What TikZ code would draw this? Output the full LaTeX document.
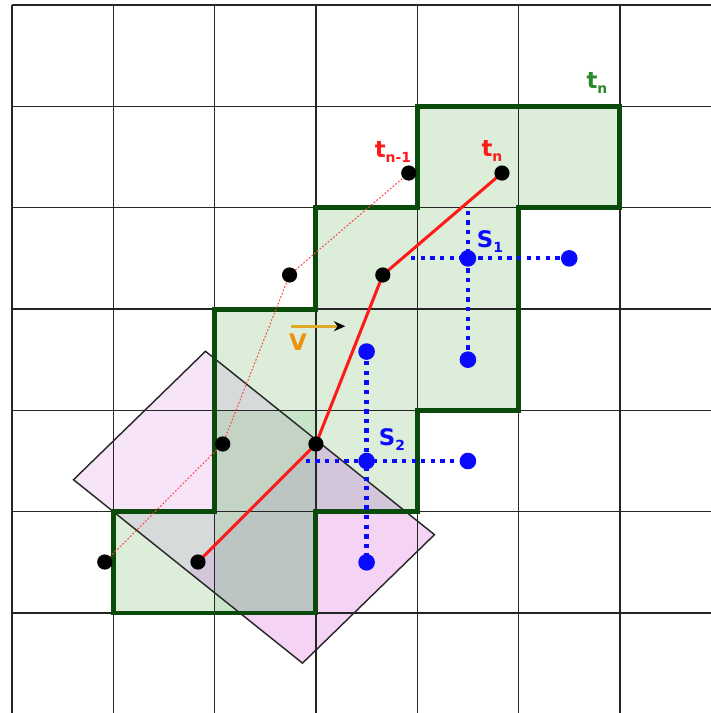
\documentclass[tikz,border=0pt]{standalone}
\usepackage{fontspec}
\setmainfont{DejaVu Sans}
\usetikzlibrary{arrows.meta}
\definecolor{gfill}{HTML}{DCEDD9}
\definecolor{gdouble}{HTML}{C8E4C8}
\definecolor{gline}{HTML}{0A4A0A}
\definecolor{glabel}{HTML}{2A8A2A}
\definecolor{pinkA}{HTML}{F8E4F8}
\definecolor{pinkB}{HTML}{F5D3F5}
\definecolor{greyA}{HTML}{D6DADA}
\definecolor{purpB}{HTML}{D4C6DA}
\definecolor{greyAA}{HTML}{C4D4C4}
\definecolor{greyBB}{HTML}{BCC4C4}
\definecolor{myred}{HTML}{FF1A1A}
\definecolor{myblue}{HTML}{0A0AFF}
\definecolor{myorange}{HTML}{F0900A}
\definecolor{arrowgold}{HTML}{E0A828}
\newcommand{\lblsub}[2]{#1\raisebox{-1.4pt}{\fontsize{3.9}{4}\selectfont #2}}
\tikzset{
  gridline/.style={line width=0.42pt, black!85},
  greenpoly/.style={line width=1.4pt, draw=gline, line join=miter},
  rectedge/.style={line width=0.4pt, draw=black!85},
  bluedots/.style={myblue, line width=1.2pt, dash pattern=on 1.2pt off 1.5pt},
  reddots/.style={myred!80, line width=0.3pt, dash pattern=on 0.5pt off 0.5pt},
  redpath/.style={myred, line width=0.85pt},
  blkdot/.style={fill=black},
  bludot/.style={fill=myblue},
  lbl/.style={font=\fontsize{6.4}{7}\selectfont\bfseries, inner sep=0pt}
}
\begin{document}
\begin{tikzpicture}
\useasboundingbox (-0.118,-0.987) rectangle (6.898,6.05);
\fill[white] (-0.118,-0.987) rectangle (6.898,6.05);
\def\greenpath{(4,5) -- (6,5) -- (6,4) -- (5,4) -- (5,2) -- (4,2) -- (4,1) -- (3,1) -- (3,0) -- (1,0) -- (1,1) -- (2,1) -- (2,3) -- (3,3) -- (3,4) -- (4,4) -- cycle}
\def\rectpath{(0.6075,1.315) -- (1.91,2.583) -- (4.17,0.773) -- (2.8675,-0.495) -- cycle}
\def\bhalf{(-0.1185,-1.399) -- (3.7905,2.405) -- (7.18,-0.31) -- (3.27,-4.114) -- cycle}
% fills
\fill[gfill] \greenpath;
\fill[gdouble] (2,0) rectangle (3,2);
\begin{scope}
  \clip \rectpath;
  \fill[pinkA] \rectpath;
  \fill[pinkB] \bhalf;
  \begin{scope}
    \clip \greenpath;
    \fill[greyA] \rectpath;
    \fill[purpB] \bhalf;
  \end{scope}
  \begin{scope}
    \clip (2,0) rectangle (3,2);
    \fill[greyAA] \rectpath;
    \fill[greyBB] \bhalf;
  \end{scope}
\end{scope}
% grid
\foreach \x in {0,...,6} \draw[gridline] (\x,-1.0) -- (\x,6);
\foreach \y in {0,...,6} \draw[gridline] (0,\y) -- (6.95,\y);
% rectangle outline
\draw[rectedge] \rectpath;
% green outline
\draw[greenpoly] \greenpath;
% sensor crosses
\coordinate (s1c) at (4.5,3.5);
\coordinate (s1r) at (5.5,3.5);
\coordinate (s1b) at (4.5,2.5);
\coordinate (s1l) at (3.94,3.5);
\coordinate (s1t) at (4.5,3.97);
\coordinate (s2c) at (3.5,1.5);
\coordinate (s2r) at (4.5,1.5);
\coordinate (s2b) at (3.5,0.5);
\coordinate (s2t) at (3.5,2.58);
\coordinate (s2l) at (2.9,1.5);
\draw[bluedots] (s1l) -- (s1r);
\draw[bluedots] (s1t) -- (s1b);
\draw[bluedots] (s2l) -- (s2r);
\draw[bluedots] (s2t) -- (s2b);
\foreach \p in {s1c,s1r,s1b,s2c,s2r,s2b,s2t} \fill[bludot] (\p) circle (0.082);
% trajectories
\coordinate (q1) at (0.916,0.503);
\coordinate (q2) at (2.08,1.668);
\coordinate (q3) at (2.74,3.336);
\coordinate (q4) at (3.916,4.342);
\coordinate (p1) at (1.836,0.503);
\coordinate (p2) at (3.0,1.668);
\coordinate (p3) at (3.66,3.336);
\coordinate (p4) at (4.836,4.342);
\draw[reddots] (q1) -- (q2) -- (q3) -- (q4);
\draw[redpath] (p1) -- (p2) -- (p3) -- (p4);
\foreach \p in {q1,q2,q3,q4,p1,p2,p3,p4} \fill[blkdot] (\p) circle (0.075);
% velocity arrow
\coordinate (va) at (2.75,2.83);
\coordinate (vb) at (3.29,2.83);
\draw[arrowgold, line width=0.75pt, -{Stealth[color=black,length=3.2pt,width=2.8pt]}] (va) -- (vb);
% labels
\node[lbl, text=glabel] (ltop) at (5.773,5.23) {\lblsub{t}{n}};
\node[lbl, text=myred] (lprev) at (3.76,4.55) {\lblsub{t}{n-1}};
\node[lbl, text=myred] (lcur) at (4.737,4.56) {\lblsub{t}{n}};
\node[lbl, text=myblue] (ls1) at (4.717,3.67) {\lblsub{S}{1}};
\node[lbl, text=myblue] (ls2) at (3.75,1.707) {\lblsub{S}{2}};
\node[lbl, text=myorange] (lv) at (2.822,2.674) {V};
\end{tikzpicture}
\end{document}
